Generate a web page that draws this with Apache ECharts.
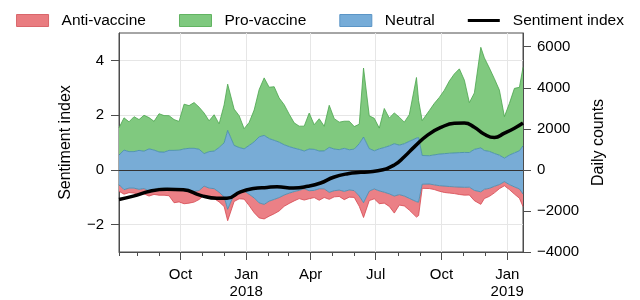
<!DOCTYPE html>
<html><head><meta charset="utf-8">
<script src="https://cdn.jsdelivr.net/npm/echarts@6/dist/echarts.min.js"></script>
<style>html,body{margin:0;padding:0;background:#fff}#c{width:640px;height:300px}</style>
</head><body><div id="c"></div>
<script>
// ---- data ----
const dates = ['2017-07-07','2017-07-14','2017-07-21','2017-07-28','2017-08-04','2017-08-11','2017-08-18','2017-08-25','2017-09-01','2017-09-08',
'2017-09-15','2017-09-22','2017-09-29','2017-10-06','2017-10-13','2017-10-20','2017-10-27','2017-11-03','2017-11-10','2017-11-17',
'2017-11-24','2017-12-01','2017-12-06','2017-12-15','2017-12-22','2017-12-29','2018-01-05','2018-01-12','2018-01-19','2018-01-26',
'2018-02-02','2018-02-09','2018-02-16','2018-02-23','2018-03-02','2018-03-09','2018-03-16','2018-03-23','2018-03-30','2018-04-06',
'2018-04-13','2018-04-20','2018-04-27','2018-05-04','2018-05-11','2018-05-18','2018-05-25','2018-06-01','2018-06-08','2018-06-14',
'2018-06-22','2018-06-29','2018-07-06','2018-07-13','2018-07-20','2018-07-27','2018-08-03','2018-08-10','2018-08-17','2018-08-27',
'2018-08-30','2018-09-04','2018-09-14','2018-09-21','2018-09-28','2018-10-05','2018-10-12','2018-10-19','2018-10-26','2018-11-02',
'2018-11-09','2018-11-16','2018-11-25','2018-11-30','2018-12-07','2018-12-14','2018-12-21','2018-12-28','2019-01-04','2019-01-11',
'2019-01-18','2019-01-23'];
const neutral = [1440,1930,1780,1780,1900,1820,2050,1930,1750,1730,
1900,1900,1920,2040,2100,2100,2010,1580,1780,1830,
2180,2630,3850,2380,2180,2050,2380,2730,3220,3360,
3050,2880,2700,2450,2270,2120,2000,1840,2030,2000,
1840,1850,2190,2030,1970,2100,1960,2020,2550,3200,
2070,1860,2050,2180,2340,2550,2410,2550,2780,3100,
3150,1400,1380,1460,1540,1580,1620,1650,1680,1700,
1690,2000,2140,1890,1800,1600,1430,1150,1440,1660,
1860,2350];
const proVaccine = [1330,1570,1450,1700,1500,1750,1520,1400,1860,1780,
1690,1500,1400,2180,2080,2230,2050,1980,1500,1770,
1150,1850,2250,1770,1550,980,1120,1550,2300,2800,
2500,2610,2150,1950,1580,1230,1130,1210,1750,1200,
1570,1200,2050,1480,1340,1320,1390,1100,950,3360,
1600,1580,1010,1900,1350,1500,1360,1050,1300,2950,
1800,1700,2200,2510,2760,3090,3520,3850,4080,3520,
2430,2750,4900,4510,4060,3640,3170,2020,2520,3140,
3090,3820];
const antiVaccine = [320,220,220,240,270,260,250,230,360,370,
310,650,600,630,570,520,440,440,420,480,
470,470,550,350,320,400,550,720,730,710,
730,700,650,550,500,450,400,550,390,350,
560,420,340,300,310,400,350,330,500,720,
460,480,620,530,610,830,510,480,570,750,
650,200,220,230,270,310,320,330,360,380,
380,500,610,450,390,320,200,200,240,350,
450,610];
const sentimentDates = ['2017-07-07','2017-07-27','2017-08-19','2017-09-12','2017-10-05','2017-10-29','2017-11-21','2017-12-05','2017-12-24',
'2018-01-11','2018-01-30','2018-02-13','2018-03-08','2018-03-28','2018-04-15','2018-05-03','2018-05-23','2018-06-10','2018-07-04',
'2018-07-27','2018-08-10','2018-08-24','2018-09-12','2018-10-01','2018-10-19','2018-11-02','2018-11-16','2018-11-30','2018-12-14',
'2018-12-28','2019-01-11','2019-01-23'];
const sentimentIndex = [-1.08,-0.96,-0.78,-0.71,-0.73,-0.93,-1.04,-1.04,-0.8,
-0.68,-0.64,-0.62,-0.66,-0.6,-0.48,-0.27,-0.14,-0.09,-0.035,
0.18,0.48,0.84,1.28,1.56,1.7,1.71,1.56,1.3,1.18,
1.34,1.52,1.71];
const xTickDates = ['2017-10-01','2018-01-01','2018-04-01','2018-07-01','2018-10-01','2019-01-01'];
const xTickLabels = ['Oct','Jan\n2018','Apr','Jul','Oct','Jan\n2019'];
const monthTickDates = ['2017-07-07','2017-08-01','2017-09-01','2017-10-01','2017-11-01','2017-12-01','2018-01-01','2018-02-01','2018-03-01',
'2018-04-01','2018-05-01','2018-06-01','2018-07-01','2018-08-01','2018-09-01','2018-10-01','2018-11-01','2018-12-01','2019-01-01'];
const leftTicks = [-2,0,2,4];
const rightTicks = [-4000,-2000,0,2000,4000,6000];
const xMin = '2017-07-07', xMax = '2019-01-23';

// ---- chart ----
const ts = s => Date.UTC(+s.slice(0,4), +s.slice(5,7)-1, +s.slice(8,10));
const AX = '#4d4d4d';
const FONT = '"Liberation Sans", Arial, Helvetica, sans-serif';
const minus = v => v < 0 ? '\u2212' + Math.abs(v) : String(v);
const C = {
  anti: {fill:'#eb8086', line:'#d5464f'},
  pro: {fill:'#80c97f', line:'#4aa54c'},
  neu: {fill:'#78acd6', line:'#3f88aa'}
};
const areaSeries = (name, vals, c) => ({
  name, type:'line', xAxisIndex:0, yAxisIndex:1, stack:'counts', stackStrategy:'samesign',
  data: dates.map((d,i) => [ts(d), vals[i]]), symbol:'none', showSymbol:false,
  lineStyle:{color:c.line, width:0.8}, itemStyle:{color:c.fill},
  areaStyle:{color:c.fill, opacity:1}, z:1, emphasis:{disabled:true}, silent:true
});
const xTickTs = xTickDates.map(ts);
const chart = echarts.init(document.getElementById('c'), null, {renderer:'canvas'});
chart.setOption({
  animation:false,
  textStyle:{fontFamily:FONT},
  legend:{
    top:7, left:'center', itemWidth:32, itemHeight:12, itemGap:33,
    textStyle:{fontSize:15.5, color:'#000', fontFamily:FONT, padding:[0,0,0,8], lineHeight:17},
    data:[
      {name:'Anti-vaccine', icon:'rect', itemStyle:{color:'#e97c80', borderColor:'#d9666b', borderWidth:1}},
      {name:'Pro-vaccine', icon:'rect', itemStyle:{color:'#7fc97f', borderColor:'#62b462', borderWidth:1}},
      {name:'Neutral', icon:'rect', itemStyle:{color:'#76acd8', borderColor:'#5b95c6', borderWidth:1}},
      {name:'Sentiment index', icon:'path://M0,0H34V3.4H0Z', itemStyle:{color:'#000'}}
    ]
  },
  grid:{left:119, right:117, top:33, bottom:45, show:true, borderColor:AX, borderWidth:1, backgroundColor:'transparent'},
  xAxis:[
    {type:'time', min:ts(xMin), max:ts(xMax), position:'bottom',
     axisLine:{show:false}, axisTick:{show:false}, axisLabel:{show:false}, splitLine:{show:false}},
    {type:'value', min:ts(xMin), max:ts(xMax), position:'bottom',
     axisLine:{show:true, onZero:false, lineStyle:{color:AX}},
     axisTick:{show:true, length:8, customValues:xTickTs, lineStyle:{color:AX}},
     axisLabel:{show:true, customValues:xTickTs, fontSize:15, color:'#000', margin:14, lineHeight:17, fontFamily:FONT,
       formatter:(v)=>{const k = xTickTs.indexOf(v); return k>=0 ? xTickLabels[k] : '';}},
     splitLine:{show:true, lineStyle:{color:'#e6e6e6', width:1}}},
    {type:'value', min:ts(xMin), max:ts(xMax), position:'bottom',
     axisLine:{show:false, onZero:false}, axisTick:{show:true, length:4, customValues:monthTickDates.map(ts), lineStyle:{color:AX}},
     axisLabel:{show:false}, splitLine:{show:false}}
  ],
  yAxis:[
    {type:'value', position:'left', min:-3, max:5,
     name:'Sentiment index', nameLocation:'middle', nameGap:45, nameTextStyle:{fontSize:16, color:'#000', fontFamily:FONT},
     axisLine:{show:true, lineStyle:{color:AX}},
     axisTick:{show:true, length:8, customValues:leftTicks, lineStyle:{color:AX}},
     axisLabel:{customValues:leftTicks, fontSize:15, color:'#000', margin:15, formatter:minus, fontFamily:FONT},
     splitLine:{show:true, lineStyle:{color:'#e6e6e6'}}},
    {type:'value', position:'right', min:-4000, max:20000/3,
     name:'Daily counts', nameLocation:'middle', nameGap:68, nameTextStyle:{fontSize:16, color:'#000', fontFamily:FONT},
     axisLine:{show:true, lineStyle:{color:AX}},
     axisTick:{show:true, length:8, customValues:rightTicks, lineStyle:{color:AX}},
     axisLabel:{customValues:rightTicks, fontSize:15, color:'#000', margin:14, formatter:minus, fontFamily:FONT},
     splitLine:{show:false}}
  ],
  series:[
    areaSeries('Neutral', neutral.map(v => v/2), C.neu),
    areaSeries('Neutral', neutral.map(v => -v/2), C.neu),
    areaSeries('Pro-vaccine', proVaccine, C.pro),
    areaSeries('Anti-vaccine', antiVaccine.map(v => -v), C.anti),
    {name:'Sentiment index', type:'line', xAxisIndex:0, yAxisIndex:0,
     data: sentimentDates.map((d,i) => [ts(d), sentimentIndex[i]]), smooth:true, symbol:'none', showSymbol:false,
     lineStyle:{color:'#000', width:3.5}, itemStyle:{color:'#000'}, z:4, silent:true,
     markLine:{silent:true, symbol:'none', z:3, label:{show:false}, animation:false,
       lineStyle:{color:'#333', width:1, type:'solid'}, data:[{yAxis:0}]}}
  ]
});
</script></body></html>
